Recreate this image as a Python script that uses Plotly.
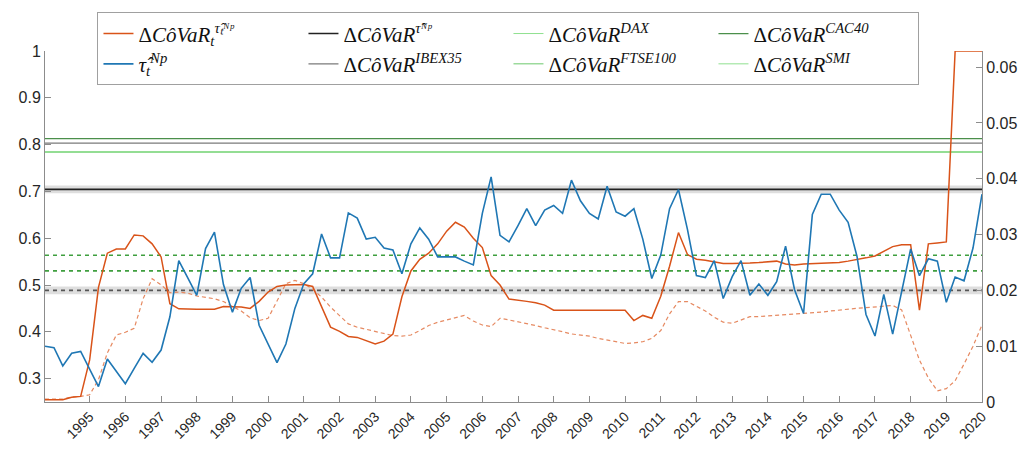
import pandas as pd
import plotly.graph_objects as go

# ---------------- data ----------------
dates = pd.date_range("1993-10-01", periods=106, freq="QS")
year_ticks = list(range(1995, 2021))

tau_np = [0.369, 0.366, 0.327, 0.354, 0.358, 0.320, 0.283, 0.342, 0.315, 0.289,
          0.322, 0.354, 0.335, 0.361, 0.432, 0.552, 0.515, 0.478, 0.578, 0.613,
          0.501, 0.442, 0.493, 0.516, 0.414, 0.374, 0.334, 0.374, 0.450, 0.503,
          0.524, 0.609, 0.558, 0.558, 0.654, 0.643, 0.598, 0.602, 0.579, 0.575,
          0.524, 0.588, 0.622, 0.598, 0.560, 0.560, 0.560, 0.551, 0.543, 0.653,
          0.731, 0.606, 0.592, 0.627, 0.663, 0.627, 0.660, 0.670, 0.653, 0.724,
          0.680, 0.653, 0.641, 0.711, 0.656, 0.647, 0.663, 0.598, 0.514, 0.564,
          0.663, 0.704, 0.619, 0.520, 0.516, 0.552, 0.471, 0.518, 0.552, 0.478,
          0.502, 0.478, 0.507, 0.583, 0.490, 0.439, 0.651, 0.694, 0.694, 0.660,
          0.634, 0.561, 0.437, 0.391, 0.480, 0.395, 0.486, 0.577, 0.520, 0.556,
          0.551, 0.463, 0.517, 0.509, 0.579, 0.694]

covar_tau_t = [0.255, 0.255, 0.255, 0.260, 0.262, 0.340, 0.495, 0.568, 0.577, 0.577,
               0.607, 0.605, 0.588, 0.560, 0.460, 0.449, 0.448, 0.448, 0.448, 0.448,
               0.454, 0.454, 0.453, 0.450, 0.465, 0.485, 0.497, 0.500, 0.500, 0.501,
               0.497, 0.455, 0.410, 0.401, 0.390, 0.388, 0.381, 0.374, 0.380, 0.395,
               0.475, 0.530, 0.555, 0.568, 0.588, 0.615, 0.634, 0.624, 0.600, 0.580,
               0.520, 0.500, 0.470, 0.468, 0.465, 0.462, 0.457, 0.446, 0.446, 0.446,
               0.446, 0.446, 0.446, 0.446, 0.446, 0.446, 0.424, 0.435, 0.429, 0.476,
               0.540, 0.612, 0.565, 0.555, 0.553, 0.550, 0.546, 0.546, 0.546, 0.547,
               0.548, 0.549, 0.551, 0.545, 0.543, 0.545, 0.546, 0.546, 0.547, 0.548,
               0.551, 0.554, 0.558, 0.562, 0.572, 0.582, 0.586, 0.586, 0.446, 0.588,
               0.590, 0.592, 1.000, 1.000, 1.000, 1.000]

covar_dashed = [0.0005, 0.0005, 0.0005, 0.0009, 0.0010, 0.0013, 0.0040, 0.0088, 0.0120, 0.0125,
                0.0132, 0.0185, 0.0221, 0.0210, 0.0196, 0.0197, 0.0195, 0.0190, 0.0187, 0.0185,
                0.0180, 0.0172, 0.0163, 0.0151, 0.0146, 0.0150, 0.0180, 0.0212, 0.0218, 0.0212,
                0.0202, 0.0188, 0.0170, 0.0155, 0.0140, 0.0134, 0.0130, 0.0127, 0.0123, 0.0119,
                0.0118, 0.0120, 0.0128, 0.0137, 0.0143, 0.0147, 0.0152, 0.0155, 0.0145, 0.0138,
                0.0135, 0.0150, 0.0147, 0.0144, 0.0140, 0.0137, 0.0133, 0.0130, 0.0126, 0.0122,
                0.0120, 0.0118, 0.0114, 0.0111, 0.0108, 0.0105, 0.0106, 0.0108, 0.0114, 0.0128,
                0.0158, 0.0180, 0.0180, 0.0172, 0.0163, 0.0152, 0.0143, 0.0141, 0.0147, 0.0153,
                0.0153, 0.0154, 0.0155, 0.0157, 0.0157, 0.0158, 0.0159, 0.0161, 0.0163, 0.0165,
                0.0167, 0.0168, 0.0169, 0.0170, 0.0172, 0.0173, 0.0165, 0.0120, 0.0075, 0.0043,
                0.0020, 0.0024, 0.0038, 0.0068, 0.0100, 0.0138]

# constant ΔCoVaR levels (right axis)
covar_tau_const = 0.0381
covar_tau_const_band = 0.0007
covar_dax = 0.0448
covar_cac40 = 0.0472
covar_ibex35 = 0.0464
covar_ftse100 = 0.0448
covar_smi = 0.0448
dashed_levels = [0.0263, 0.0235]
dashed_gray_level = 0.0200
dashed_gray_band = 0.0007

# ---------------- figure ----------------
x0, x1 = dates[0], dates[-1]
SERIF = "Liberation Serif"
fig = go.Figure()

def hx():
    return [x0, x1]

def hline(lvl, name, col, w):
    fig.add_trace(go.Scatter(x=hx(), y=[lvl, lvl], mode="lines", name=name,
                             line=dict(color=col, width=w), yaxis="y"))

# bands (right axis)
for lvl, hw in [(covar_tau_const, covar_tau_const_band), (dashed_gray_level, dashed_gray_band)]:
    fig.add_trace(go.Scatter(x=[x0, x1, x1, x0], y=[lvl - hw, lvl - hw, lvl + hw, lvl + hw],
                             fill="toself", fillcolor="rgba(160,160,160,0.35)",
                             line=dict(width=0), mode="lines", showlegend=False,
                             hoverinfo="skip", yaxis="y"))

for lvl in dashed_levels:
    fig.add_trace(go.Scatter(x=hx(), y=[lvl, lvl], mode="lines", showlegend=False,
                             line=dict(color="#3f9f3f", width=1.6, dash="4px,4px"), yaxis="y"))
fig.add_trace(go.Scatter(x=hx(), y=[dashed_gray_level] * 2, mode="lines", showlegend=False,
                         line=dict(color="#555555", width=1.6, dash="4px,4px"), yaxis="y"))
fig.add_trace(go.Scatter(x=dates, y=covar_dashed, mode="lines", showlegend=False,
                         line=dict(color="#e68a62", width=1.2, dash="4px,3px"), yaxis="y"))

lbl = lambda sup: "Δ<i>CôVaR</i><sup><i>" + sup + "</i></sup>"

# legend order (row 1 then row 2)
fig.add_trace(go.Scatter(x=dates, y=covar_tau_t, mode="lines",
                         name="Δ<i>CôVaR</i><sub><i>t</i></sub><sup><i>τ̂ₜᴺᵖ</i></sup>",
                         line=dict(color="#D95319", width=1.5), yaxis="y2"))
hline(covar_tau_const, lbl("τ̂ᴺᵖ"), "#222222", 1.6)
hline(covar_dax, lbl("DAX"), "#8fe08f", 1.0)
hline(covar_cac40, lbl("CAC40"), "#4b8f4b", 1.2)
fig.add_trace(go.Scatter(x=dates, y=tau_np, mode="lines",
                         name="<i>τ̂</i><sub><i>t</i></sub><sup><i>Np</i></sup>",
                         line=dict(color="#1f77b4", width=1.6), yaxis="y2"))
hline(covar_ibex35, lbl("IBEX35"), "#7a7a7a", 1.2)
hline(covar_ftse100, lbl("FTSE100"), "#6cc86c", 1.0)
hline(covar_smi, lbl("SMI"), "#8fe08f", 1.0)

axis_col = "#8c8c8c"
tick_font = dict(family="Liberation Sans, Arial", size=16, color="#262626")
fig.update_layout(
    width=1032, height=454,
    margin=dict(l=45, r=50, t=43, b=43),
    paper_bgcolor="white", plot_bgcolor="white",
    showlegend=True,
    legend=dict(orientation="h", x=0.056, y=1.11, xanchor="left", yanchor="top",
                bgcolor="white", bordercolor="#a0a0a0", borderwidth=1,
                font=dict(family=SERIF, size=21, color="#111111"),
                entrywidth=160, entrywidthmode="pixels", traceorder="normal",
                itemwidth=30, tracegroupgap=0),
    xaxis=dict(range=[x0, x1], tickvals=[pd.Timestamp(f"{y}-01-01") for y in year_ticks],
               ticktext=[str(y) for y in year_ticks], tickangle=-45,
               ticks="inside", ticklen=6, tickcolor=axis_col, showgrid=False,
               showline=True, linecolor=axis_col, linewidth=1, zeroline=False,
               tickfont=dict(family="Liberation Sans, Arial", size=14, color="#262626")),
    yaxis=dict(side="right", range=[0, 0.0629], tickvals=[0, 0.01, 0.02, 0.03, 0.04, 0.05, 0.06],
               ticktext=["0", "0.01", "0.02", "0.03", "0.04", "0.05", "0.06"],
               ticks="inside", ticklen=6, tickcolor=axis_col, showgrid=False,
               showline=True, linecolor=axis_col, zeroline=False, tickfont=tick_font),
    yaxis2=dict(side="left", overlaying="y", range=[0.25, 1],
                tickvals=[0.3, 0.4, 0.5, 0.6, 0.7, 0.8, 0.9, 1.0],
                ticktext=["0.3", "0.4", "0.5", "0.6", "0.7", "0.8", "0.9", "1"],
                ticks="inside", ticklen=6, tickcolor=axis_col, showgrid=False,
                showline=True, linecolor=axis_col, zeroline=False, tickfont=tick_font),
)
fig.write_html("out.html")
